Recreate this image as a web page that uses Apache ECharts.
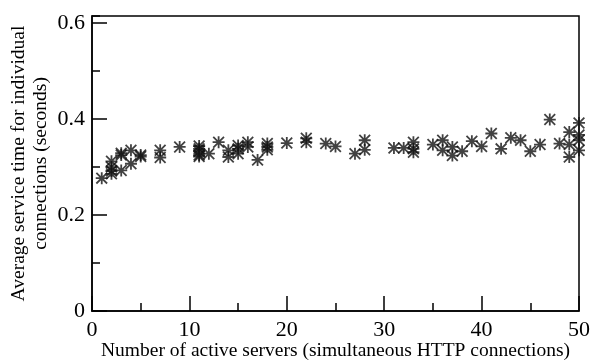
<!DOCTYPE html>
<html>
<head>
<meta charset="utf-8">
<script src="https://cdn.jsdelivr.net/npm/echarts@6/dist/echarts.min.js"></script>
<style>
html, body { margin: 0; padding: 0; background: #fff; }
#chart { width: 592px; height: 362px; }
</style>
</head>
<body>
<div id="chart"></div>
<script>
'use strict';
// 服务器数量 / 平均服务时间
var serverCounts = [
    1,
    2, 2, 2, 2,
    3, 3, 3,
    4, 4,
    5, 5,
    7, 7,
    9,
    11, 11, 11, 11, 11,
    12, 13,
    14, 14,
    15, 15, 15,
    16, 16,
    17,
    18, 18, 18,
    20,
    22, 22,
    24, 25, 27,
    28, 28,
    31, 32,
    33, 33, 33,
    35,
    36, 36,
    37, 37,
    38, 39, 40, 41, 42, 43, 44, 45, 46, 47, 48,
    49, 49, 49,
    50, 50, 50, 50
];
var serviceTimes = [
    0.277,
    0.312, 0.300, 0.292, 0.286,
    0.329, 0.325, 0.293,
    0.335, 0.307,
    0.325, 0.322,
    0.335, 0.320,
    0.342,
    0.344, 0.338, 0.333, 0.325, 0.322,
    0.328, 0.352,
    0.335, 0.321,
    0.345, 0.338, 0.328,
    0.352, 0.342,
    0.315,
    0.349, 0.342, 0.336,
    0.350,
    0.360, 0.352,
    0.349, 0.343, 0.328,
    0.356, 0.336,
    0.340, 0.340,
    0.352, 0.338, 0.331,
    0.347,
    0.356, 0.335,
    0.342, 0.324,
    0.333, 0.354, 0.343, 0.370, 0.338, 0.361, 0.356, 0.333, 0.347, 0.399, 0.349,
    0.373, 0.347, 0.321,
    0.392, 0.367, 0.356, 0.335
];
var xTicks = [0, 10, 20, 30, 40, 50];
var yTicks = [0, 0.2, 0.4, 0.6];

// 星号图形
var starPath = 'path://M8.5 0h3v20h-3z M0 8.5h20v3h-20z M0 2.1L2.1 0L20 17.9L17.9 20z M17.9 0L20 2.1L2.1 20L0 17.9z';

var myChart = echarts.init(document.getElementById('chart'));

var points = serverCounts.map(function (x, i) {
    return [x, serviceTimes[i]];
});

var font = 'Liberation Serif, Times New Roman, serif';
var yMax = 0.615;

var option = {
    animation: false,
    grid: {
        left: 92,
        right: 13,
        top: 16,
        bottom: 51,
        outerBoundsMode: 'none',
        containLabel: false,
        show: true,
        borderColor: '#000',
        borderWidth: 1.5
    },
    xAxis: {
        type: 'value',
        min: xTicks[0],
        max: xTicks[xTicks.length - 1],
        interval: 10,
        name: 'Number of active servers (simultaneous HTTP connections)',
        nameLocation: 'middle',
        nameGap: 30,
        nameMoveOverlap: false,
        nameTextStyle: { fontFamily: font, fontSize: 19.5, color: '#000' },
        splitLine: { show: false },
        axisLine: { show: true, lineStyle: { color: '#000', width: 1.5 } },
        axisTick: { show: true, inside: true, length: 15, lineStyle: { color: '#000', width: 1.5 } },
        minorTick: { show: true, splitNumber: 2, length: 8, lineStyle: { color: '#000', width: 1.5 } },
        axisLabel: { fontFamily: font, fontSize: 22, color: '#000', margin: 8 }
    },
    yAxis: [
        {
            type: 'value',
            min: 0,
            max: yMax,
            interval: 0.2,
            name: 'Average service time for individual\nconnections (seconds)',
            nameLocation: 'middle',
            nameGap: 40,
            nameMoveOverlap: false,
            nameTextStyle: { fontFamily: font, fontSize: 19.5, color: '#000', lineHeight: 22 },
            splitLine: { show: false },
            axisLine: { show: true, lineStyle: { color: '#000', width: 1.5 } },
            axisTick: { show: true, inside: true, length: 15, lineStyle: { color: '#000', width: 1.5 } },
            axisLabel: {
                fontFamily: font, fontSize: 22, color: '#000', margin: 7,
                showMaxLabel: false,
                formatter: function (v) {
                    return yTicks.indexOf(Math.round(v * 10) / 10) >= 0 ? (v === 0 ? '0' : v.toFixed(1)) : '';
                }
            }
        },
        {
            // 次刻度
            type: 'value',
            position: 'left',
            min: 0,
            max: yMax,
            interval: 0.1,
            splitLine: { show: false },
            axisLine: { show: false },
            axisLabel: { show: false },
            axisTick: { show: true, inside: true, length: 8, lineStyle: { color: '#000', width: 1.5 } }
        }
    ],
    series: [
        {
            type: 'scatter',
            yAxisIndex: 0,
            symbol: starPath,
            symbolSize: 12,
            itemStyle: { color: '#111' },
            data: points
        }
    ]
};
myChart.setOption(option);
</script>
</body>
</html>
